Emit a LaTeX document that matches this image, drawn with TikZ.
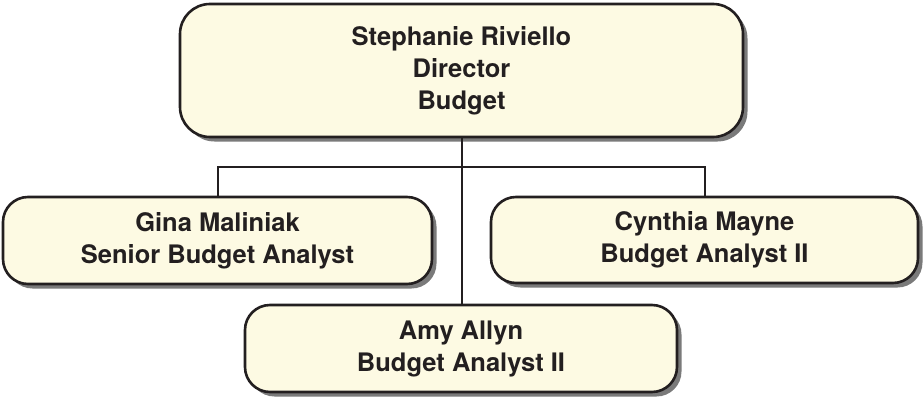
\documentclass[tikz,border=0pt]{standalone}
\usepackage{fontspec}
\setmainfont{TeX Gyre Heros}
\usetikzlibrary{shadows}
\definecolor{boxfill}{HTML}{FDFAE3}
\definecolor{ink}{HTML}{231F20}
\definecolor{shade}{HTML}{7A7A7A}
\tikzset{
  orgbox/.style={draw=ink, line width=2.6pt, fill=boxfill, rounded corners=#1,
    align=center, inner sep=0pt, text=ink,
    font=\fontsize{25.5}{32}\selectfont\bfseries,
    drop shadow={shadow xshift=4.5pt, shadow yshift=-4.5pt, fill=shade, opacity=1}},
  link/.style={draw=ink, line width=2pt}
}
\begin{document}
\begin{tikzpicture}[x=1pt,y=-1pt]
\useasboundingbox (0,0) rectangle (924,399);
\node[orgbox=30pt, minimum width=563pt, minimum height=133pt] (top) at (461.5,70.5)
  {Stephanie Riviello\\Director\\Budget};
\node[orgbox=25pt, minimum width=429pt, minimum height=87pt] (gina) at (217.5,240.5)
  {Gina Maliniak\\Senior Budget Analyst};
\node[orgbox=25pt, minimum width=427pt, minimum height=86pt] (cyn) at (704.5,240)
  {Cynthia Mayne\\Budget Analyst II};
\node[orgbox=25pt, minimum width=432pt, minimum height=87pt] (amy) at (461,348.5)
  {Amy Allyn\\Budget Analyst II};
\coordinate (bus) at (461,166.5);
\draw[link] (top.south) -- (top.south |- amy.north);
\draw[link] (gina.north) |- (bus) -| (cyn.north);
\end{tikzpicture}
\end{document}
